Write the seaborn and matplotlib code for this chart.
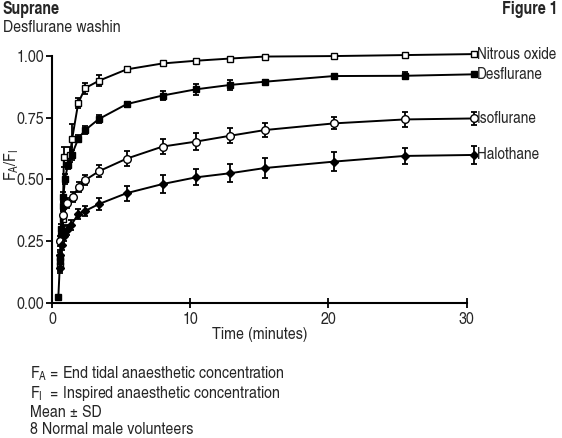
import matplotlib
matplotlib.use("Agg")
import matplotlib.pyplot as plt
import seaborn as sns
import pandas as pd

# ---------------- data ----------------
series_names = ["Nitrous oxide", "Desflurane", "Isoflurane", "Halothane"]

nitrous_t = [0.57, 0.6, 0.78, 0.86, 1.3, 1.46, 1.9, 2.4, 3.4, 5.4, 8.0, 10.4, 12.9, 15.4, 20.4, 25.5, 30.5]
nitrous_y = [0.147, 0.186, 0.34, 0.59, 0.60, 0.665, 0.81, 0.87, 0.90, 0.946, 0.97, 0.981, 0.99, 0.998, 1.0, 1.004, 1.008]
nitrous_sd = [0.02, 0.02, 0.03, 0.04, 0.03, 0.06, 0.02, 0.022, 0.023, 0.008, 0.006, 0.005, 0.004, 0.004, 0.003, 0.003, 0.003]

desflurane_t = [0.46, 0.58, 0.62, 0.66, 0.77, 0.82, 0.94, 1.15, 1.44, 1.9, 2.4, 3.4, 5.4, 8.0, 10.4, 12.9, 15.4, 20.4, 25.5, 30.5]
desflurane_y = [0.024, 0.167, 0.27, 0.30, 0.39, 0.43, 0.50, 0.56, 0.60, 0.665, 0.70, 0.745, 0.805, 0.84, 0.865, 0.883, 0.896, 0.919, 0.92, 0.926]
desflurane_sd = [0.005, 0.02, 0.02, 0.02, 0.02, 0.02, 0.02, 0.02, 0.02, 0.015, 0.015, 0.015, 0.01, 0.019, 0.021, 0.02, 0.005, 0.005, 0.015, 0.005]

isoflurane_t = [0.6, 0.82, 1.06, 1.5, 1.95, 2.4, 3.4, 5.4, 8.0, 10.4, 12.9, 15.4, 20.4, 25.5, 30.5]
isoflurane_y = [0.25, 0.356, 0.403, 0.43, 0.47, 0.497, 0.533, 0.584, 0.633, 0.653, 0.677, 0.70, 0.727, 0.743, 0.747]
isoflurane_sd = [0.02, 0.02, 0.02, 0.02, 0.02, 0.02, 0.025, 0.03, 0.03, 0.034, 0.03, 0.03, 0.024, 0.03, 0.028]

halothane_t = [0.55, 0.6, 0.7, 0.9, 1.05, 1.4, 1.9, 2.4, 3.4, 5.4, 8.0, 10.4, 12.9, 15.4, 20.4, 25.5, 30.5]
halothane_y = [0.14, 0.193, 0.234, 0.27, 0.295, 0.315, 0.36, 0.372, 0.40, 0.444, 0.481, 0.508, 0.525, 0.546, 0.572, 0.595, 0.599]
halothane_sd = [0.02, 0.02, 0.02, 0.02, 0.02, 0.02, 0.02, 0.02, 0.025, 0.03, 0.037, 0.032, 0.037, 0.04, 0.04, 0.034, 0.036]

x_ticks = [0, 10, 20, 30]
y_ticks = [0.0, 0.25, 0.5, 0.75, 1.0]
y_tick_labels = ["0.00", "0.25", "0.50", "0.75", "1.00"]

# ---------------- style ----------------
sns.set_theme(style="ticks")
FONT = ["TeX Gyre Heros Cn", "DejaVu Sans"]
plt.rcParams["font.family"] = FONT
plt.rcParams["mathtext.fontset"] = "custom"
plt.rcParams["mathtext.rm"] = "TeX Gyre Heros Cn"
plt.rcParams["mathtext.it"] = "TeX Gyre Heros Cn"
FS_LAB = 12
FS_AX = 12.5
FS_TXT = 12.5

fig = plt.figure(figsize=(5.62, 4.38), dpi=100)
ax = fig.add_axes([0.0925, 0.309, 0.738, 0.563])

series = [
    (nitrous_t, nitrous_y, nitrous_sd, "s", "white", 5.0),
    (desflurane_t, desflurane_y, desflurane_sd, "s", "black", 5.0),
    (isoflurane_t, isoflurane_y, isoflurane_sd, "o", "white", 5.5),
    (halothane_t, halothane_y, halothane_sd, "D", "black", 4.5),
]

frames = []
for name, (t, y, sd, m, fc, ms) in zip(series_names, series):
    frames.append(pd.DataFrame({"t": t, "v": y, "sd": sd, "series": name}))
df = pd.concat(frames, ignore_index=True)

for name, (t, y, sd, m, fc, ms) in zip(series_names, series):
    d = df[df["series"] == name]
    ax.errorbar(d["t"], d["v"], yerr=d["sd"], fmt="none", ecolor="black",
                elinewidth=1.3, capsize=2.5, capthick=1.3, clip_on=False, zorder=2)
    sns.lineplot(data=d, x="t", y="v", ax=ax, color="black", linewidth=1.4,
                 marker=m, markersize=ms, markerfacecolor=fc,
                 markeredgecolor="black", markeredgewidth=1.0,
                 clip_on=False, zorder=3, legend=False, errorbar=None)
    ax.annotate(name, xy=(d["t"].iloc[-1], d["v"].iloc[-1]), xytext=(2.5, 0),
                textcoords="offset points", ha="left", va="center",
                fontsize=FS_LAB, annotation_clip=False)

ax.set_xlim(0, 30)
ax.set_ylim(0, 1.0)
ax.set_xticks(x_ticks)
ax.set_yticks(y_ticks)
ax.set_yticklabels(y_tick_labels)
ax.set_xlabel("Time (minutes)", fontsize=FS_AX, labelpad=0)
ax.set_ylabel(r"F$_\mathrm{A}$/F$_\mathrm{I}$", fontsize=FS_AX)
ax.yaxis.set_label_coords(-0.075, 0.56)
ax.tick_params(axis="x", direction="inout", length=7, width=1.3, labelsize=FS_AX, pad=3, color="black")
ax.tick_params(axis="y", direction="out", length=4, width=1.3, labelsize=FS_AX, pad=1.5, color="black")
for s in ["left", "bottom"]:
    ax.spines[s].set_linewidth(1.5)
    ax.spines[s].set_color("black")
sns.despine(ax=ax)

fig.text(0.005, 0.997, "Suprane", fontsize=FS_TXT, fontweight="bold", ha="left", va="top")
fig.text(0.005, 0.955, "Desflurane washin", fontsize=FS_TXT, ha="left", va="top")
fig.text(0.993, 0.997, "Figure 1", fontsize=FS_TXT, fontweight="bold", ha="right", va="top")

foot_x = 0.053
fig.text(foot_x, 0.137, r"F$_\mathrm{A}$ = End tidal anaesthetic concentration", fontsize=FS_TXT, ha="left", va="baseline")
fig.text(foot_x, 0.092, r"F$_\mathrm{I}$  = Inspired anaesthetic concentration", fontsize=FS_TXT, ha="left", va="baseline")
fig.text(foot_x, 0.047, "Mean \u00b1 SD", fontsize=FS_TXT, ha="left", va="baseline")
fig.text(foot_x, 0.009, "8 Normal male volunteers", fontsize=FS_TXT, ha="left", va="baseline")

fig.savefig("out.png", dpi=100, facecolor="white")
